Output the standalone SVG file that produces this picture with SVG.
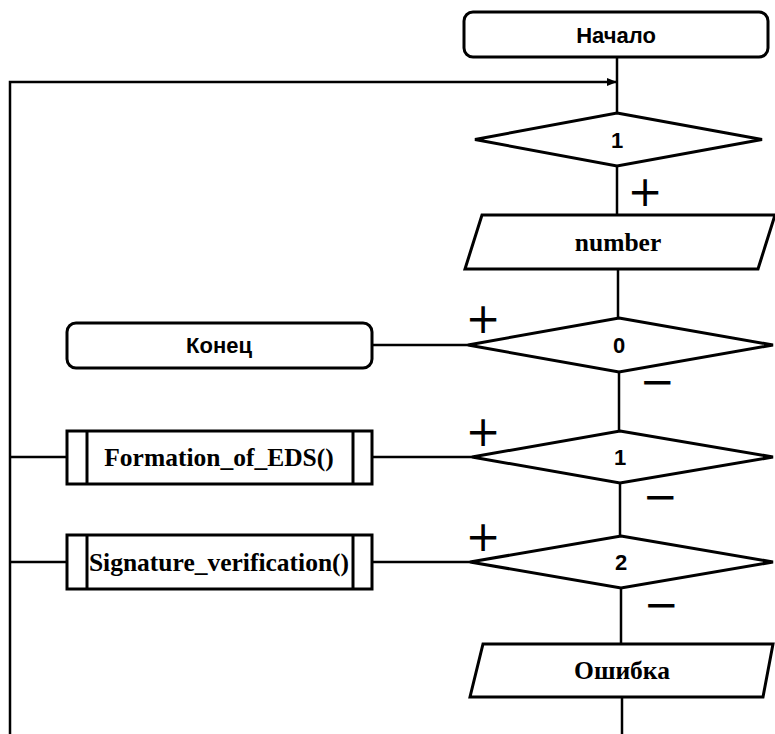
<svg xmlns="http://www.w3.org/2000/svg" width="775" height="734" viewBox="0 0 775 734">
<defs>
<style>
.shape{fill:#fff;stroke:#000;stroke-width:3;stroke-linejoin:miter}
.line{fill:none;stroke:#000;stroke-width:2.5}
.sans{font-family:"Liberation Sans","Noto Sans",sans-serif;font-weight:bold;font-size:22px;text-anchor:middle;fill:#000}
.serif{font-family:"Liberation Serif","DejaVu Serif",serif;font-weight:bold;font-size:25.5px;text-anchor:middle;fill:#000}
.sign{font-family:"DejaVu Sans","Liberation Sans",sans-serif;font-weight:normal;font-size:42px;text-anchor:middle;fill:#000}
</style>
<marker id="arr" markerWidth="10" markerHeight="8" refX="9" refY="4" orient="auto" markerUnits="userSpaceOnUse">
<path d="M0,0 L10,4 L0,8 Z" fill="#000"/>
</marker>
</defs>
<rect width="775" height="734" fill="#fff"/>
<g id="connectors">
<path class="line" d="M617,57 V113"/>
<path class="line" d="M10,734 V82 H616" marker-end="url(#arr)"/>
<path class="line" d="M617,166 V215"/>
<path class="line" d="M618,269 V318"/>
<path class="line" d="M468,345 H372"/>
<path class="line" d="M619,372 V431"/>
<path class="line" d="M472,457 H372"/>
<path class="line" d="M10,457 H67"/>
<path class="line" d="M620,483 V536"/>
<path class="line" d="M470,562 H372"/>
<path class="line" d="M10,562 H67"/>
<path class="line" d="M621,588 V644"/>
<path class="line" d="M622,697 V734"/>
</g>
<g id="start">
<rect class="shape" x="464" y="12" width="304" height="45" rx="9"/>
<text class="sans" x="616" y="43">Начало</text>
</g>
<g id="cond1">
<polygon class="shape" points="617,113 762,139.5 617,166 475,139.5"/>
<text class="sans" x="617" y="148">1</text>
</g>
<g id="input-number">
<polygon class="shape" points="482,215 775,215 758,269 465,269"/>
<text class="serif" x="618" y="251">number</text>
</g>
<g id="cond0">
<polygon class="shape" points="619,318 773,345 619,372 468,345"/>
<text class="sans" x="619" y="353">0</text>
</g>
<g id="end">
<rect class="shape" x="67" y="323" width="305" height="45" rx="9"/>
<text class="sans" x="219" y="353">Конец</text>
</g>
<g id="cond1b">
<polygon class="shape" points="620,431 773,457 620,483 472,457"/>
<text class="sans" x="620" y="465">1</text>
</g>
<g id="formation">
<rect class="shape" x="67" y="431" width="305" height="53"/>
<line class="shape" x1="87" y1="431" x2="87" y2="484"/>
<line class="shape" x1="353" y1="431" x2="353" y2="484"/>
<text class="serif" x="219" y="466">Formation_of_EDS()</text>
</g>
<g id="cond2">
<polygon class="shape" points="621,536 773,562 621,588 470,562"/>
<text class="sans" x="621" y="570">2</text>
</g>
<g id="signature">
<rect class="shape" x="67" y="535" width="305" height="54"/>
<line class="shape" x1="87" y1="535" x2="87" y2="589"/>
<line class="shape" x1="353" y1="535" x2="353" y2="589"/>
<text class="serif" x="219" y="571">Signature_verification()</text>
</g>
<g id="error">
<polygon class="shape" points="483,644 773,644 763,697 470,697"/>
<text class="serif" x="622" y="679">Ошибка</text>
</g>
<g id="labels">
<text class="sign" x="645" y="206">+</text>
<text class="sign" x="483" y="333">+</text>
<text class="sign" x="657" y="396">−</text>
<text class="sign" x="483" y="446">+</text>
<text class="sign" x="660" y="511">−</text>
<text class="sign" x="483" y="551">+</text>
<text class="sign" x="661" y="619">−</text>
</g>
</svg>
